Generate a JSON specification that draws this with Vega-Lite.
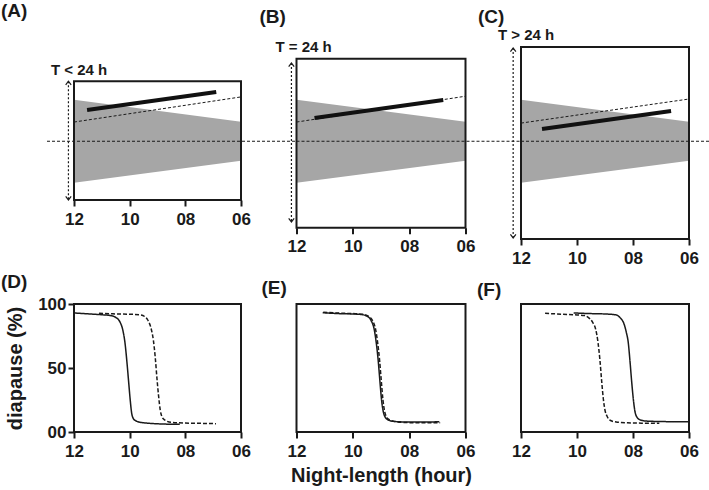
{
  "$schema": "https://vega.github.io/schema/vega-lite/v6.json",
  "padding": {"left": 0, "top": 2, "right": 0, "bottom": 0},
  "background": "white",
  "columns": 3,
  "spacing": {"row": 65, "column": 55.5},
  "bounds": "flush",
  "datasets": {
    "schema": [
      {"panel": "A", "part": "band", "night": 12, "phase": 5.95, "phase2": -5.95},
      {"panel": "A", "part": "band", "night": 6, "phase": 2.8, "phase2": -2.8},
      {"panel": "A", "part": "frame", "night": 12, "night2": 6, "phase": 8.6, "phase2": -8.4, "label": "T < 24 h"},
      {"panel": "A", "part": "center", "night": 12.97, "night2": 4.03, "phase": 0},
      {"panel": "A", "part": "expected", "night": 12, "phase": 2.75},
      {"panel": "A", "part": "expected", "night": 6, "phase": 6.35},
      {"panel": "A", "part": "observed", "night": 11.53, "phase": 4.48},
      {"panel": "A", "part": "observed", "night": 6.89, "phase": 7.05},
      {"panel": "A", "part": "period", "night": 12.2, "phase": 8.6, "phase2": -8.4},
      {"panel": "B", "part": "band", "night": 12, "phase": 5.95, "phase2": -5.95},
      {"panel": "B", "part": "band", "night": 6, "phase": 2.8, "phase2": -2.8},
      {"panel": "B", "part": "frame", "night": 12, "night2": 6, "phase": 11.8, "phase2": -12.4, "label": "T = 24 h"},
      {"panel": "B", "part": "center", "night": 12, "night2": 4.03, "phase": 0},
      {"panel": "B", "part": "expected", "night": 12, "phase": 2.75},
      {"panel": "B", "part": "expected", "night": 6, "phase": 6.45},
      {"panel": "B", "part": "observed", "night": 11.36, "phase": 3.33},
      {"panel": "B", "part": "observed", "night": 6.79, "phase": 5.91},
      {"panel": "B", "part": "period", "night": 12.18, "phase": 11.2, "phase2": -11.55},
      {"panel": "C", "part": "band", "night": 12, "phase": 5.95, "phase2": -5.95},
      {"panel": "C", "part": "band", "night": 6, "phase": 2.8, "phase2": -2.8},
      {"panel": "C", "part": "frame", "night": 12, "night2": 6, "phase": 13.5, "phase2": -14, "label": "T > 24 h"},
      {"panel": "C", "part": "center", "night": 12, "night2": 5.25, "phase": 0},
      {"panel": "C", "part": "expected", "night": 12, "phase": 2.6},
      {"panel": "C", "part": "expected", "night": 6, "phase": 6.05},
      {"panel": "C", "part": "observed", "night": 11.25, "phase": 1.75},
      {"panel": "C", "part": "observed", "night": 6.64, "phase": 4.33},
      {"panel": "C", "part": "period", "night": 12.28, "phase": 13.35, "phase2": -13.85}
    ],
    "diapause": [
      {"panel": "D", "series": "T cycle", "night": 12.0, "pct": 93},
      {"panel": "D", "series": "T cycle", "night": 11.5, "pct": 92.3},
      {"panel": "D", "series": "T cycle", "night": 11.0, "pct": 91.6},
      {"panel": "D", "series": "T cycle", "night": 10.7, "pct": 91},
      {"panel": "D", "series": "T cycle", "night": 10.5, "pct": 89.5},
      {"panel": "D", "series": "T cycle", "night": 10.35, "pct": 86},
      {"panel": "D", "series": "T cycle", "night": 10.25, "pct": 80},
      {"panel": "D", "series": "T cycle", "night": 10.17, "pct": 70},
      {"panel": "D", "series": "T cycle", "night": 10.1, "pct": 55},
      {"panel": "D", "series": "T cycle", "night": 10.04, "pct": 40},
      {"panel": "D", "series": "T cycle", "night": 9.98, "pct": 25},
      {"panel": "D", "series": "T cycle", "night": 9.93, "pct": 15},
      {"panel": "D", "series": "T cycle", "night": 9.88, "pct": 11},
      {"panel": "D", "series": "T cycle", "night": 9.8, "pct": 9},
      {"panel": "D", "series": "T cycle", "night": 9.6, "pct": 7.5},
      {"panel": "D", "series": "T cycle", "night": 9.3, "pct": 6.8},
      {"panel": "D", "series": "T cycle", "night": 9.0, "pct": 6.4},
      {"panel": "D", "series": "T cycle", "night": 8.6, "pct": 6.1},
      {"panel": "D", "series": "T cycle", "night": 8.2, "pct": 6.0},
      {"panel": "D", "series": "T = 24 h", "night": 11.1, "pct": 92.8},
      {"panel": "D", "series": "T = 24 h", "night": 10.6, "pct": 92.3},
      {"panel": "D", "series": "T = 24 h", "night": 10.0, "pct": 92},
      {"panel": "D", "series": "T = 24 h", "night": 9.6, "pct": 91.5},
      {"panel": "D", "series": "T = 24 h", "night": 9.45, "pct": 90},
      {"panel": "D", "series": "T = 24 h", "night": 9.35, "pct": 87.5},
      {"panel": "D", "series": "T = 24 h", "night": 9.22, "pct": 80},
      {"panel": "D", "series": "T = 24 h", "night": 9.15, "pct": 72},
      {"panel": "D", "series": "T = 24 h", "night": 9.08, "pct": 58},
      {"panel": "D", "series": "T = 24 h", "night": 9.02, "pct": 42},
      {"panel": "D", "series": "T = 24 h", "night": 8.96, "pct": 28},
      {"panel": "D", "series": "T = 24 h", "night": 8.9, "pct": 17},
      {"panel": "D", "series": "T = 24 h", "night": 8.84, "pct": 12},
      {"panel": "D", "series": "T = 24 h", "night": 8.75, "pct": 9.5},
      {"panel": "D", "series": "T = 24 h", "night": 8.5, "pct": 7.5},
      {"panel": "D", "series": "T = 24 h", "night": 8.0, "pct": 7},
      {"panel": "D", "series": "T = 24 h", "night": 7.5, "pct": 6.8},
      {"panel": "D", "series": "T = 24 h", "night": 6.9, "pct": 6.5},
      {"panel": "E", "series": "T cycle", "night": 11.07, "pct": 93.2},
      {"panel": "E", "series": "T cycle", "night": 10.5, "pct": 92.5},
      {"panel": "E", "series": "T cycle", "night": 10.0, "pct": 92.2},
      {"panel": "E", "series": "T cycle", "night": 9.7, "pct": 91.8},
      {"panel": "E", "series": "T cycle", "night": 9.5, "pct": 90.5},
      {"panel": "E", "series": "T cycle", "night": 9.35, "pct": 87},
      {"panel": "E", "series": "T cycle", "night": 9.24, "pct": 80},
      {"panel": "E", "series": "T cycle", "night": 9.17, "pct": 70},
      {"panel": "E", "series": "T cycle", "night": 9.1, "pct": 56},
      {"panel": "E", "series": "T cycle", "night": 9.04, "pct": 40},
      {"panel": "E", "series": "T cycle", "night": 8.98, "pct": 25},
      {"panel": "E", "series": "T cycle", "night": 8.92, "pct": 16},
      {"panel": "E", "series": "T cycle", "night": 8.86, "pct": 12},
      {"panel": "E", "series": "T cycle", "night": 8.75, "pct": 9.5},
      {"panel": "E", "series": "T cycle", "night": 8.5, "pct": 8.2},
      {"panel": "E", "series": "T cycle", "night": 8.0, "pct": 7.8},
      {"panel": "E", "series": "T cycle", "night": 7.5, "pct": 7.8},
      {"panel": "E", "series": "T cycle", "night": 6.93, "pct": 8},
      {"panel": "E", "series": "T = 24 h", "night": 11.05, "pct": 93.6},
      {"panel": "E", "series": "T = 24 h", "night": 10.5, "pct": 92.9},
      {"panel": "E", "series": "T = 24 h", "night": 10.0, "pct": 92.5},
      {"panel": "E", "series": "T = 24 h", "night": 9.65, "pct": 92},
      {"panel": "E", "series": "T = 24 h", "night": 9.45, "pct": 90.5},
      {"panel": "E", "series": "T = 24 h", "night": 9.3, "pct": 87},
      {"panel": "E", "series": "T = 24 h", "night": 9.19, "pct": 80},
      {"panel": "E", "series": "T = 24 h", "night": 9.12, "pct": 70},
      {"panel": "E", "series": "T = 24 h", "night": 9.05, "pct": 56},
      {"panel": "E", "series": "T = 24 h", "night": 8.99, "pct": 40},
      {"panel": "E", "series": "T = 24 h", "night": 8.93, "pct": 25},
      {"panel": "E", "series": "T = 24 h", "night": 8.87, "pct": 16},
      {"panel": "E", "series": "T = 24 h", "night": 8.81, "pct": 12},
      {"panel": "E", "series": "T = 24 h", "night": 8.7, "pct": 9.5},
      {"panel": "E", "series": "T = 24 h", "night": 8.45, "pct": 8},
      {"panel": "E", "series": "T = 24 h", "night": 8.0, "pct": 7.3},
      {"panel": "E", "series": "T = 24 h", "night": 7.5, "pct": 7.2},
      {"panel": "E", "series": "T = 24 h", "night": 6.9, "pct": 7.3},
      {"panel": "F", "series": "T = 24 h", "night": 11.14, "pct": 92.7},
      {"panel": "F", "series": "T = 24 h", "night": 10.5, "pct": 92},
      {"panel": "F", "series": "T = 24 h", "night": 10.0, "pct": 91.5},
      {"panel": "F", "series": "T = 24 h", "night": 9.74, "pct": 91},
      {"panel": "F", "series": "T = 24 h", "night": 9.6, "pct": 89.5},
      {"panel": "F", "series": "T = 24 h", "night": 9.45, "pct": 86},
      {"panel": "F", "series": "T = 24 h", "night": 9.33, "pct": 80},
      {"panel": "F", "series": "T = 24 h", "night": 9.25, "pct": 70},
      {"panel": "F", "series": "T = 24 h", "night": 9.18, "pct": 56},
      {"panel": "F", "series": "T = 24 h", "night": 9.12, "pct": 40},
      {"panel": "F", "series": "T = 24 h", "night": 9.06, "pct": 26},
      {"panel": "F", "series": "T = 24 h", "night": 9.0, "pct": 17},
      {"panel": "F", "series": "T = 24 h", "night": 8.93, "pct": 12.5},
      {"panel": "F", "series": "T = 24 h", "night": 8.8, "pct": 9},
      {"panel": "F", "series": "T = 24 h", "night": 8.6, "pct": 7.8},
      {"panel": "F", "series": "T = 24 h", "night": 8.2, "pct": 7.2},
      {"panel": "F", "series": "T = 24 h", "night": 7.6, "pct": 6.9},
      {"panel": "F", "series": "T = 24 h", "night": 7.06, "pct": 6.8},
      {"panel": "F", "series": "T cycle", "night": 10.12, "pct": 93},
      {"panel": "F", "series": "T cycle", "night": 9.5, "pct": 92.5},
      {"panel": "F", "series": "T cycle", "night": 9.0, "pct": 92.2},
      {"panel": "F", "series": "T cycle", "night": 8.6, "pct": 91.5},
      {"panel": "F", "series": "T cycle", "night": 8.45, "pct": 89},
      {"panel": "F", "series": "T cycle", "night": 8.33, "pct": 85},
      {"panel": "F", "series": "T cycle", "night": 8.24, "pct": 78},
      {"panel": "F", "series": "T cycle", "night": 8.17, "pct": 70},
      {"panel": "F", "series": "T cycle", "night": 8.11, "pct": 56},
      {"panel": "F", "series": "T cycle", "night": 8.05, "pct": 40},
      {"panel": "F", "series": "T cycle", "night": 7.99, "pct": 26},
      {"panel": "F", "series": "T cycle", "night": 7.93, "pct": 16},
      {"panel": "F", "series": "T cycle", "night": 7.87, "pct": 12},
      {"panel": "F", "series": "T cycle", "night": 7.75, "pct": 9.5},
      {"panel": "F", "series": "T cycle", "night": 7.5, "pct": 8.5},
      {"panel": "F", "series": "T cycle", "night": 7.0, "pct": 8.2},
      {"panel": "F", "series": "T cycle", "night": 6.5, "pct": 8},
      {"panel": "F", "series": "T cycle", "night": 6.0, "pct": 8}
    ]
  },
  "concat": [
    {
      "width": 167, "height": 192,
      "title": {"text": "(A)", "dx": -73, "offset": 26},
      "data": {"name": "schema"},
      "transform": [{"filter": "datum.panel === 'A'"}],
      "encoding": {
        "x": {"field": "night", "type": "quantitative", "scale": {"domain": [12, 6], "nice": false, "zero": false}, "axis": {"values": [12, 10, 8, 6], "format": "02d", "title": null, "offset": -39}},
        "y": {"field": "phase", "type": "quantitative", "scale": {"domain": [-14, 13.5], "nice": false, "zero": false}, "axis": null}
      },
      "layer": [
        {"transform": [{"filter": "datum.part === 'band'"}], "mark": {"type": "area", "color": "#a6a6a6"}, "encoding": {"y2": {"field": "phase2"}}},
        {"transform": [{"filter": "datum.part === 'frame'"}], "mark": {"type": "rect", "filled": false, "stroke": "#1a1a1a", "strokeWidth": 2}, "encoding": {"x2": {"field": "night2"}, "y2": {"field": "phase2"}}},
        {"transform": [{"filter": "datum.part === 'center'"}], "mark": {"type": "rule", "strokeDash": [3, 2], "strokeWidth": 1, "color": "#1a1a1a"}, "encoding": {"x2": {"field": "night2"}}},
        {"transform": [{"filter": "datum.part === 'expected'"}], "mark": {"type": "line", "strokeDash": [3, 2], "strokeWidth": 1, "color": "#1a1a1a"}, "encoding": {}},
        {"transform": [{"filter": "datum.part === 'observed'"}], "mark": {"type": "line", "strokeWidth": 4, "color": "#111111"}, "encoding": {}},
        {"transform": [{"filter": "datum.part === 'period'"}], "mark": {"type": "rule", "strokeDash": [2, 2], "strokeWidth": 1.2, "color": "#1a1a1a"}, "encoding": {"y2": {"field": "phase2"}}},
        {"transform": [{"filter": "datum.part === 'period'"}], "mark": {"type": "point", "shape": "M-1,1.3L0,0L1,1.3", "size": 30, "filled": false, "stroke": "#1a1a1a", "strokeWidth": 1.2, "opacity": 1}, "encoding": {}},
        {"transform": [{"filter": "datum.part === 'period'"}], "mark": {"type": "point", "shape": "M-1,-1.3L0,0L1,-1.3", "size": 30, "filled": false, "stroke": "#1a1a1a", "strokeWidth": 1.2, "opacity": 1}, "encoding": {"y": {"field": "phase2", "type": "quantitative", "scale": {"domain": [-14, 13.5], "nice": false, "zero": false}, "axis": null}}},
        {"transform": [{"filter": "datum.part === 'frame'"}], "mark": {"type": "text", "align": "left", "dx": -23, "dy": -11, "fontSize": 15, "fontWeight": "bold", "color": "#1a1a1a"}, "encoding": {"text": {"field": "label"}}}
      ]
    },
    {
      "width": 169, "height": 192,
      "title": {"text": "(B)", "dx": -37, "offset": 13},
      "data": {"name": "schema"},
      "transform": [{"filter": "datum.panel === 'B'"}],
      "encoding": {
        "x": {"field": "night", "type": "quantitative", "scale": {"domain": [12, 6], "nice": false, "zero": false}, "axis": {"values": [12, 10, 8, 6], "format": "02d", "title": null, "offset": -11.2}},
        "y": {"field": "phase", "type": "quantitative", "scale": {"domain": [-14, 13.5], "nice": false, "zero": false}, "axis": null}
      },
      "layer": [
        {"transform": [{"filter": "datum.part === 'band'"}], "mark": {"type": "area", "color": "#a6a6a6"}, "encoding": {"y2": {"field": "phase2"}}},
        {"transform": [{"filter": "datum.part === 'frame'"}], "mark": {"type": "rect", "filled": false, "stroke": "#1a1a1a", "strokeWidth": 2}, "encoding": {"x2": {"field": "night2"}, "y2": {"field": "phase2"}}},
        {"transform": [{"filter": "datum.part === 'center'"}], "mark": {"type": "rule", "strokeDash": [3, 2], "strokeWidth": 1, "color": "#1a1a1a"}, "encoding": {"x2": {"field": "night2"}}},
        {"transform": [{"filter": "datum.part === 'expected'"}], "mark": {"type": "line", "strokeDash": [3, 2], "strokeWidth": 1, "color": "#1a1a1a"}, "encoding": {}},
        {"transform": [{"filter": "datum.part === 'observed'"}], "mark": {"type": "line", "strokeWidth": 4, "color": "#111111"}, "encoding": {}},
        {"transform": [{"filter": "datum.part === 'period'"}], "mark": {"type": "rule", "strokeDash": [2, 2], "strokeWidth": 1.2, "color": "#1a1a1a"}, "encoding": {"y2": {"field": "phase2"}}},
        {"transform": [{"filter": "datum.part === 'period'"}], "mark": {"type": "point", "shape": "M-1,1.3L0,0L1,1.3", "size": 30, "filled": false, "stroke": "#1a1a1a", "strokeWidth": 1.2, "opacity": 1}, "encoding": {}},
        {"transform": [{"filter": "datum.part === 'period'"}], "mark": {"type": "point", "shape": "M-1,-1.3L0,0L1,-1.3", "size": 30, "filled": false, "stroke": "#1a1a1a", "strokeWidth": 1.2, "opacity": 1}, "encoding": {"y": {"field": "phase2", "type": "quantitative", "scale": {"domain": [-14, 13.5], "nice": false, "zero": false}, "axis": null}}},
        {"transform": [{"filter": "datum.part === 'frame'"}], "mark": {"type": "text", "align": "left", "dx": -21, "dy": -12, "fontSize": 15, "fontWeight": "bold", "color": "#1a1a1a"}, "encoding": {"text": {"field": "label"}}}
      ]
    },
    {
      "width": 168, "height": 192,
      "title": {"text": "(C)", "dx": -43, "offset": 1},
      "data": {"name": "schema"},
      "transform": [{"filter": "datum.panel === 'C'"}],
      "encoding": {
        "x": {"field": "night", "type": "quantitative", "scale": {"domain": [12, 6], "nice": false, "zero": false}, "axis": {"values": [12, 10, 8, 6], "format": "02d", "title": null, "offset": 0}},
        "y": {"field": "phase", "type": "quantitative", "scale": {"domain": [-14, 13.5], "nice": false, "zero": false}, "axis": null}
      },
      "layer": [
        {"transform": [{"filter": "datum.part === 'band'"}], "mark": {"type": "area", "color": "#a6a6a6"}, "encoding": {"y2": {"field": "phase2"}}},
        {"transform": [{"filter": "datum.part === 'frame'"}], "mark": {"type": "rect", "filled": false, "stroke": "#1a1a1a", "strokeWidth": 2}, "encoding": {"x2": {"field": "night2"}, "y2": {"field": "phase2"}}},
        {"transform": [{"filter": "datum.part === 'center'"}], "mark": {"type": "rule", "strokeDash": [3, 2], "strokeWidth": 1, "color": "#1a1a1a"}, "encoding": {"x2": {"field": "night2"}}},
        {"transform": [{"filter": "datum.part === 'expected'"}], "mark": {"type": "line", "strokeDash": [3, 2], "strokeWidth": 1, "color": "#1a1a1a"}, "encoding": {}},
        {"transform": [{"filter": "datum.part === 'observed'"}], "mark": {"type": "line", "strokeWidth": 4, "color": "#111111"}, "encoding": {}},
        {"transform": [{"filter": "datum.part === 'period'"}], "mark": {"type": "rule", "strokeDash": [2, 2], "strokeWidth": 1.2, "color": "#1a1a1a"}, "encoding": {"y2": {"field": "phase2"}}},
        {"transform": [{"filter": "datum.part === 'period'"}], "mark": {"type": "point", "shape": "M-1,1.3L0,0L1,1.3", "size": 30, "filled": false, "stroke": "#1a1a1a", "strokeWidth": 1.2, "opacity": 1}, "encoding": {}},
        {"transform": [{"filter": "datum.part === 'period'"}], "mark": {"type": "point", "shape": "M-1,-1.3L0,0L1,-1.3", "size": 30, "filled": false, "stroke": "#1a1a1a", "strokeWidth": 1.2, "opacity": 1}, "encoding": {"y": {"field": "phase2", "type": "quantitative", "scale": {"domain": [-14, 13.5], "nice": false, "zero": false}, "axis": null}}},
        {"transform": [{"filter": "datum.part === 'frame'"}], "mark": {"type": "text", "align": "left", "dx": -23, "dy": -12, "fontSize": 15, "fontWeight": "bold", "color": "#1a1a1a"}, "encoding": {"text": {"field": "label"}}}
      ]
    },
    {
      "width": 167, "height": 128,
      "view": {"stroke": "#1a1a1a", "strokeWidth": 2},
      "title": {"text": "(D)", "dx": -73, "offset": 3.5},
      "data": {"name": "diapause"},
      "transform": [{"filter": "datum.panel === 'D'"}],
      "mark": {"type": "line", "interpolate": "monotone", "strokeWidth": 1.5, "color": "#1a1a1a"},
      "encoding": {
        "x": {"field": "night", "type": "quantitative", "scale": {"domain": [12, 6], "nice": false, "zero": false}, "axis": {"values": [12, 10, 8, 6], "format": "02d", "title": null}},
        "y": {"field": "pct", "type": "quantitative", "scale": {"domain": [0, 100], "nice": false}, "axis": {"values": [0, 50, 100], "format": "02d", "title": "diapause (%)", "titlePadding": 12, "labelPadding": 2}},
        "strokeDash": {"field": "series", "type": "nominal", "scale": {"domain": ["T cycle", "T = 24 h"], "range": [[1, 0], [4, 2]]}, "legend": null}
      }
    },
    {
      "width": 169, "height": 128,
      "view": {"stroke": "#1a1a1a", "strokeWidth": 2},
      "title": {"text": "(E)", "dx": -35, "offset": 6},
      "data": {"name": "diapause"},
      "transform": [{"filter": "datum.panel === 'E'"}],
      "mark": {"type": "line", "interpolate": "monotone", "strokeWidth": 1.5, "color": "#1a1a1a"},
      "encoding": {
        "x": {"field": "night", "type": "quantitative", "scale": {"domain": [12, 6], "nice": false, "zero": false}, "axis": {"values": [12, 10, 8, 6], "format": "02d", "title": "Night-length (hour)", "titlePadding": 6}},
        "y": {"field": "pct", "type": "quantitative", "scale": {"domain": [0, 100], "nice": false}, "axis": null},
        "strokeDash": {"field": "series", "type": "nominal", "scale": {"domain": ["T cycle", "T = 24 h"], "range": [[1, 0], [4, 2]]}, "legend": null}
      }
    },
    {
      "width": 168, "height": 128,
      "view": {"stroke": "#1a1a1a", "strokeWidth": 2},
      "title": {"text": "(F)", "dx": -44, "offset": 4},
      "data": {"name": "diapause"},
      "transform": [{"filter": "datum.panel === 'F'"}],
      "mark": {"type": "line", "interpolate": "monotone", "strokeWidth": 1.5, "color": "#1a1a1a"},
      "encoding": {
        "x": {"field": "night", "type": "quantitative", "scale": {"domain": [12, 6], "nice": false, "zero": false}, "axis": {"values": [12, 10, 8, 6], "format": "02d", "title": null}},
        "y": {"field": "pct", "type": "quantitative", "scale": {"domain": [0, 100], "nice": false}, "axis": null},
        "strokeDash": {"field": "series", "type": "nominal", "scale": {"domain": ["T cycle", "T = 24 h"], "range": [[1, 0], [4, 2]]}, "legend": null}
      }
    }
  ],
  "config": {
    "view": {"stroke": null},
    "axis": {"labelFont": "Liberation Sans", "labelFontWeight": "bold", "labelFontSize": 17, "labelColor": "#1a1a1a", "labelPadding": 5, "labelFlush": false, "tickColor": "#1a1a1a", "tickWidth": 2, "tickSize": 6, "domain": false, "grid": false, "titleFont": "Liberation Sans", "titleFontWeight": "bold", "titleFontSize": 20, "titleColor": "#1a1a1a"},
    "title": {"font": "Liberation Sans", "fontWeight": "bold", "fontSize": 19, "color": "#1a1a1a", "anchor": "start", "frame": "group"},
    "text": {"font": "Liberation Sans"}
  }
}
